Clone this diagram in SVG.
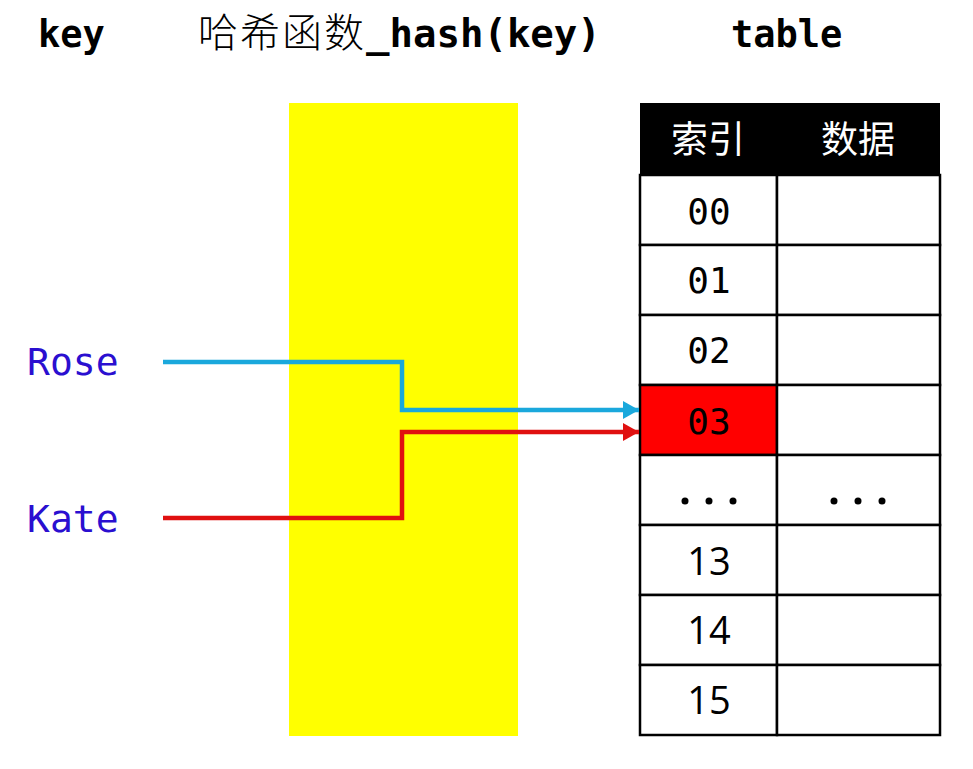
<svg xmlns="http://www.w3.org/2000/svg" width="973" height="769" viewBox="0 0 973 769">
<style>
.title{font-family:"DejaVu Sans Mono","Noto Sans CJK SC",monospace;font-weight:bold;font-size:37px;fill:#000}
.t2{font-family:"DejaVu Sans Mono",monospace;font-weight:bold;font-size:39px;fill:#000}
.cjk{font-family:"Noto Sans CJK SC",sans-serif;font-weight:300;font-size:40px;fill:#000;letter-spacing:2px}
.key{font-family:"DejaVu Sans Mono",monospace;font-size:38px;fill:#2a0fd0}
.num{font-family:"DejaVu Sans Mono",monospace;font-size:36px;fill:#000;text-anchor:middle}
.num2{font-family:"Open Sans","Liberation Sans",sans-serif;font-size:38px;fill:#000;text-anchor:middle}
.hdr{font-family:"Noto Sans CJK SC",sans-serif;font-size:37px;fill:#fff;text-anchor:middle}
.cell{fill:#fff;stroke:#000;stroke-width:2.5}
.conn{fill:none;stroke-width:4.5}
</style>
<defs>
<marker id="ab" markerUnits="userSpaceOnUse" markerWidth="16" markerHeight="18" refX="16" refY="9" orient="auto"><path d="M0,0 L16,9 L0,18 Z" fill="#1aa8dc"/></marker>
<marker id="ar" markerUnits="userSpaceOnUse" markerWidth="16" markerHeight="18" refX="16" refY="9" orient="auto"><path d="M0,0 L16,9 L0,18 Z" fill="#e01010"/></marker>
</defs>
<rect width="973" height="769" fill="#fff"/>
<g id="titles">
<text class="title" x="38" y="47">key</text>
<text x="198" y="47"><tspan class="cjk">哈希函数</tspan><tspan class="t2">_hash(key)</tspan></text>
<text class="title" x="731" y="47">table</text>
</g>
<g id="hash"><rect x="289" y="103" width="229" height="633" fill="#ffff00"/></g>
<g id="key-rose"><text class="key" x="27" y="375">Rose</text></g>
<g id="key-kate"><text class="key" x="27" y="532">Kate</text></g>
<g id="table">
<rect x="640" y="103" width="300" height="72" fill="#000"/>
<text class="hdr" x="708" y="153">索引</text>
<text class="hdr" x="858" y="153">数据</text>
<g id="row00"><rect class="cell" x="640" y="175" width="137" height="70"/><rect class="cell" x="777" y="175" width="163" height="70"/><text class="num" x="709" y="224">00</text></g>
<g id="row01"><rect class="cell" x="640" y="245" width="137" height="70"/><rect class="cell" x="777" y="245" width="163" height="70"/><text class="num" x="709" y="293">01</text></g>
<g id="row02"><rect class="cell" x="640" y="315" width="137" height="70"/><rect class="cell" x="777" y="315" width="163" height="70"/><text class="num" x="709" y="363">02</text></g>
<g id="row03"><rect class="cell" x="640" y="385" width="137" height="70" style="fill:#ff0000"/><rect class="cell" x="777" y="385" width="163" height="70"/><text class="num" x="709" y="434">03</text></g>
<g id="rowdots"><rect class="cell" x="640" y="455" width="137" height="70"/><rect class="cell" x="777" y="455" width="163" height="70"/>
<circle cx="685" cy="501" r="3.5"/><circle cx="709" cy="501" r="3.5"/><circle cx="733" cy="501" r="3.5"/>
<circle cx="834" cy="501" r="3.5"/><circle cx="858" cy="501" r="3.5"/><circle cx="882" cy="501" r="3.5"/></g>
<g id="row13"><rect class="cell" x="640" y="525" width="137" height="70"/><rect class="cell" x="777" y="525" width="163" height="70"/><text class="num2" x="709" y="575">13</text></g>
<g id="row14"><rect class="cell" x="640" y="595" width="137" height="70"/><rect class="cell" x="777" y="595" width="163" height="70"/><text class="num2" x="709" y="644">14</text></g>
<g id="row15"><rect class="cell" x="640" y="665" width="137" height="70"/><rect class="cell" x="777" y="665" width="163" height="70"/><text class="num2" x="709" y="714">15</text></g>
</g>
<g id="connectors">
<path class="conn" d="M163,362 H402 V410 H639" stroke="#1aa8dc" marker-end="url(#ab)"/>
<path class="conn" d="M163,518 H402 V432 H639" stroke="#e01010" marker-end="url(#ar)"/>
</g>
</svg>
